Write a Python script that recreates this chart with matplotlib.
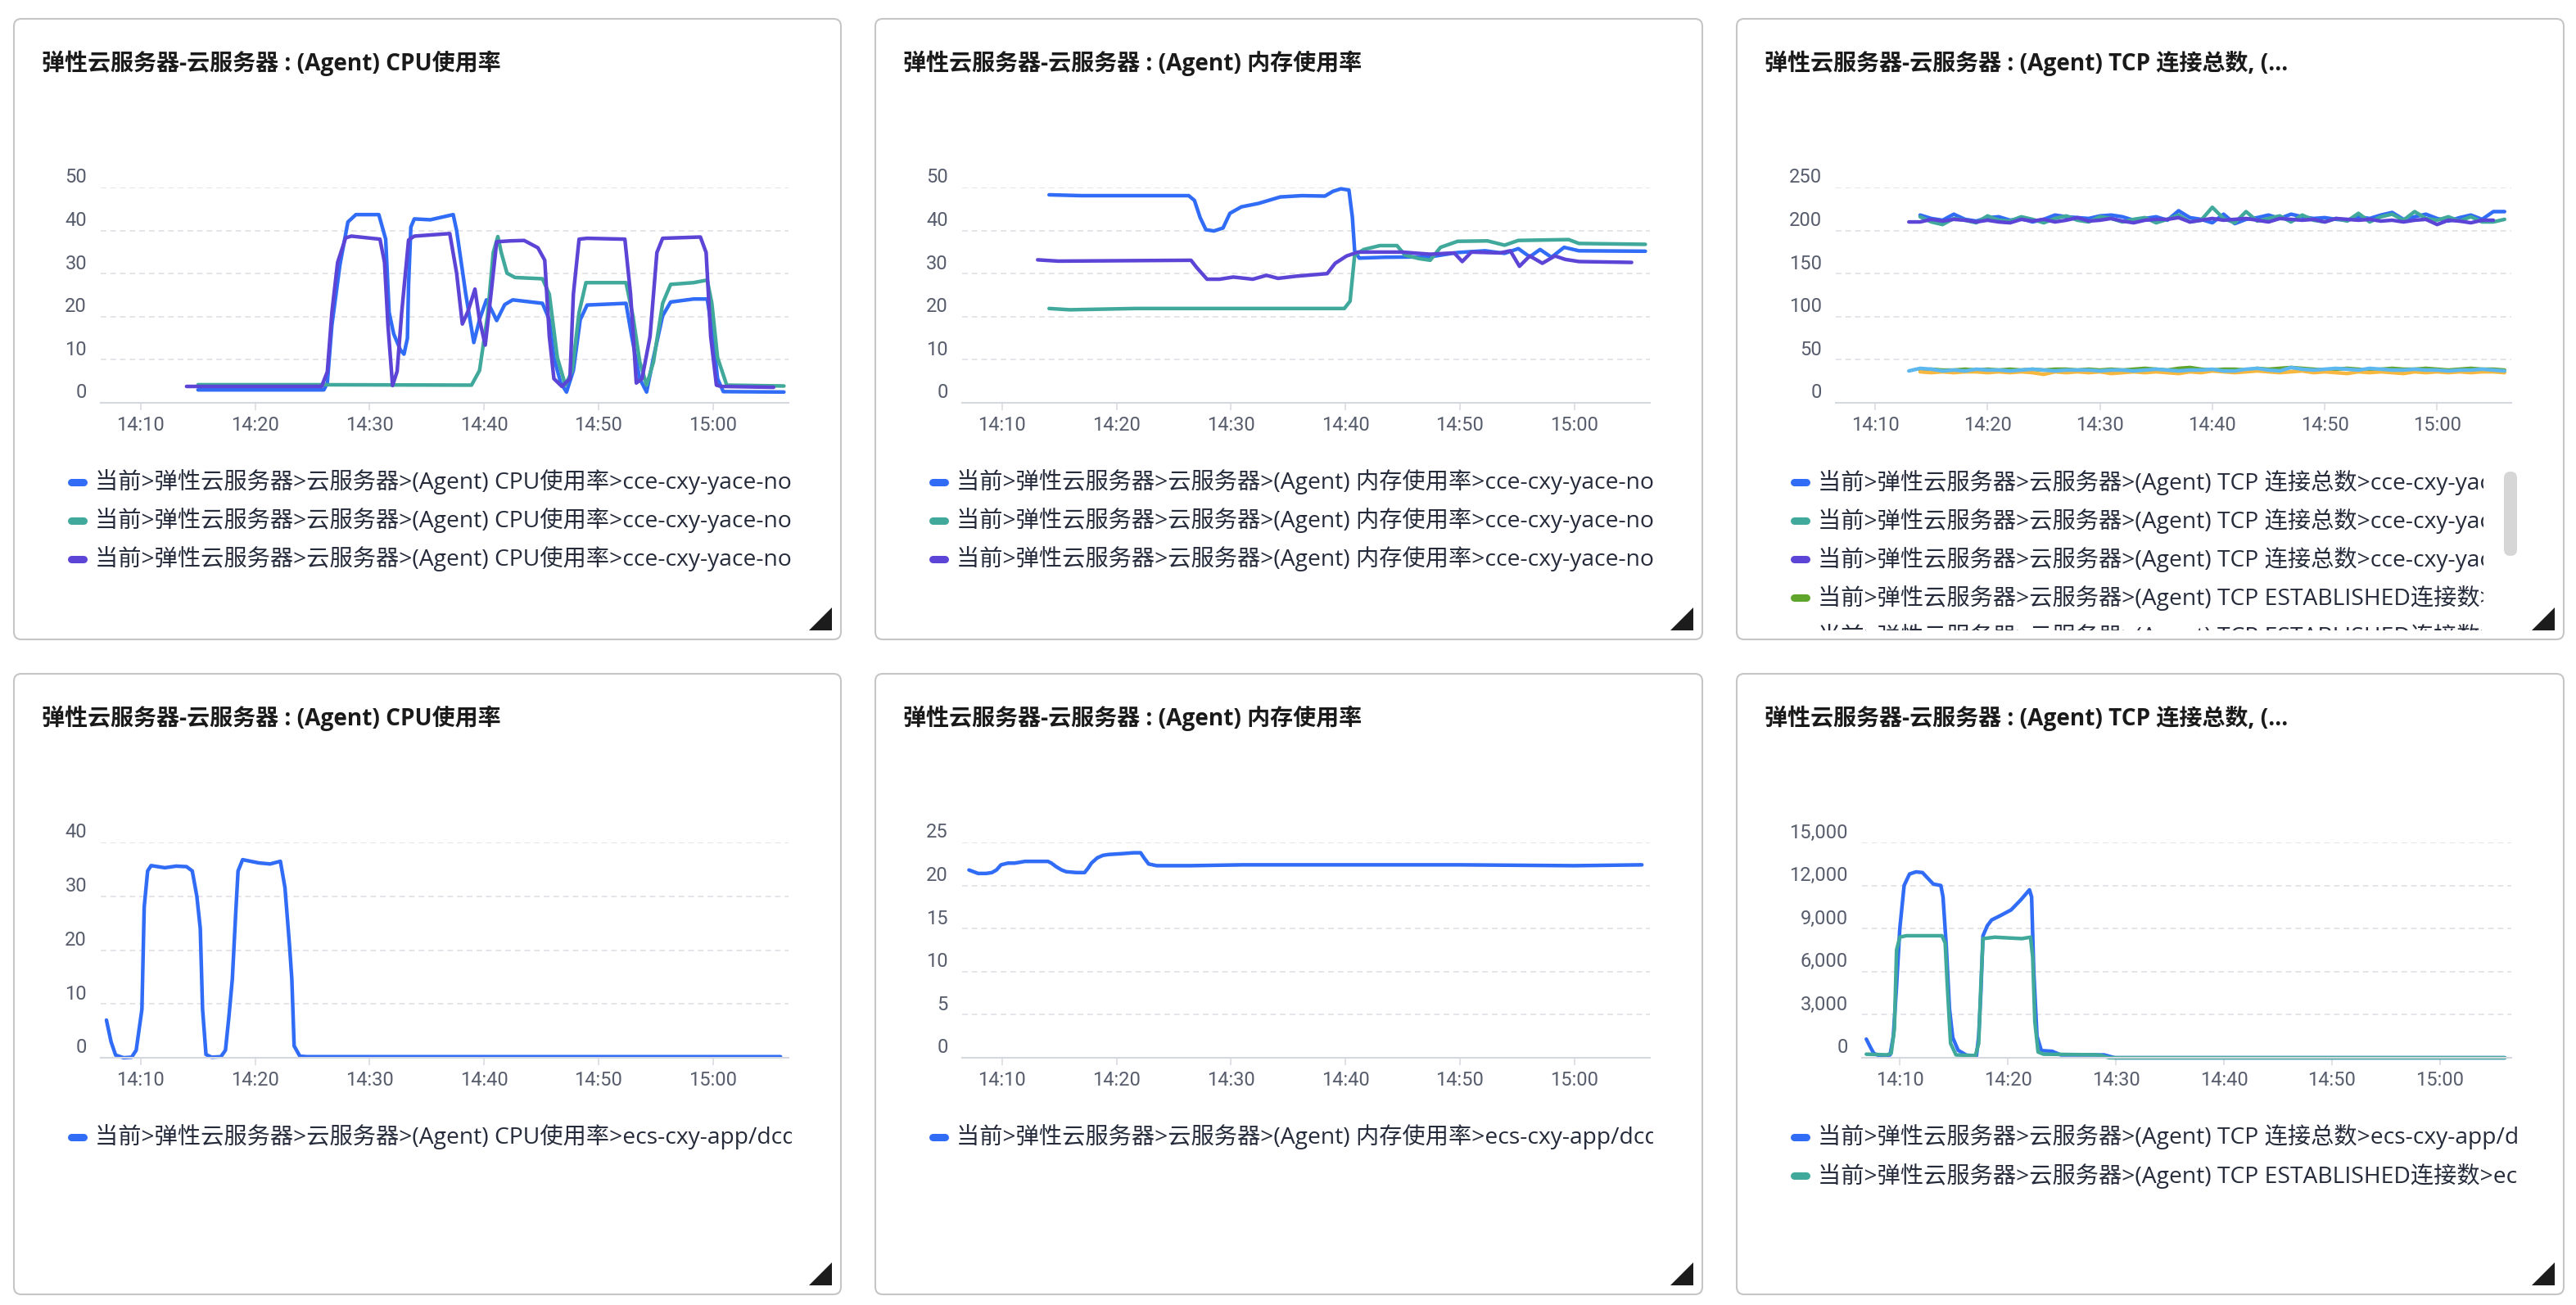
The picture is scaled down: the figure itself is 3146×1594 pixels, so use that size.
import numpy as np
import matplotlib
matplotlib.use('Agg')
import matplotlib.pyplot as plt
from matplotlib.patches import FancyBboxPatch, Polygon
from matplotlib.transforms import Bbox, TransformedBbox, offset_copy

plt.rcParams['font.family'] = ['Open Sans', 'Noto Sans CJK SC', 'DejaVu Sans']
TICK_FONT = ['Roboto', 'Noto Sans CJK SC', 'DejaVu Sans']

W, H = 3146, 1594
PW, PH = 1010, 758
COLS = [17, 1069, 2121]
ROWS = [23, 823]

BLUE = '#306cf5'
TEAL = '#41a99b'
PURPLE = '#5c44d6'
GREEN = '#5fa52c'
ORANGE = '#f7b73e'
LBLUE = '#5cb8ee'

# tijd = minuten na 14:00
xticks = [10, 20, 30, 40, 50, 60]
xlabels = ['14:10', '14:20', '14:30', '14:40', '14:50', '15:00']

# ---- paneel 1: CPU (cce nodes) ----
cpu_a_t = [15.0, 20, 26.0, 26.3, 26.7, 27.4, 28.1, 28.8, 30.8, 31.4, 31.7, 32.1, 32.7, 33.0, 33.3, 33.4, 33.6, 33.9,
           35.3, 37.3, 37.6, 38.4, 39.1, 39.6, 40.2, 40.7, 41.1, 41.8, 42.5, 45.1, 45.7, 46.1, 46.7, 47.2, 47.8, 48.4,
           49.0, 52.4, 52.9, 53.6, 54.2, 54.8, 55.6, 56.3, 58.3, 59.5, 60.0, 60.4, 60.9, 66.2]
cpu_a_v = [3.0, 3.0, 3.0, 4.6, 18, 32, 42, 43.7, 43.7, 38, 21, 16, 12.2, 11.3, 15, 27.5, 40.8, 42.7,
           42.5, 43.7, 40, 25.2, 14, 19.3, 23.9, 21.3, 19.1, 22.8, 23.9, 23.1, 19.3, 10.5, 4.6, 2.5, 7.5, 19.3,
           22.7, 23.1, 15.4, 5.6, 2.5, 10.5, 20.2, 23.4, 24.1, 24.1, 15.4, 5.6, 2.6, 2.5]
cpu_b_t = [15.0, 25, 38.9, 39.6, 40.3, 40.8, 41.2, 41.5, 42.0, 42.7, 45.1, 45.7, 46.4, 47.1, 47.7, 48.3, 48.9,
           52.4, 53.0, 53.6, 54.2, 54.8, 55.6, 56.3, 58.3, 59.5, 59.9, 60.4, 61.2, 66.2]
cpu_b_v = [4.2, 4.2, 4.1, 7.5, 20.2, 34.9, 38.6, 34.9, 30.1, 29.1, 28.8, 25.2, 10.5, 4.1, 7.5, 21, 27.9,
           27.9, 20.2, 9.5, 4.1, 9.5, 23.1, 27.5, 27.9, 28.5, 23.1, 10.5, 4.1, 3.9]
cpu_c_t = [14.0, 25.8, 26.3, 26.7, 27.2, 27.9, 28.4, 30.9, 31.3, 31.6, 32.0, 32.4, 32.8, 33.4, 33.9, 37.0, 37.6,
           38.1, 38.6, 39.2, 39.6, 40.1, 40.6, 41.1, 42.3, 43.5, 44.7, 45.3, 45.7, 46.1, 46.8, 47.5, 47.8, 48.3,
           49.0, 52.3, 52.8, 53.3, 53.8, 54.5, 55.1, 55.6, 57.8, 58.9, 59.4, 59.8, 60.3, 60.7, 65.3]
cpu_c_v = [3.8, 3.8, 7.2, 21, 32.6, 38.3, 38.7, 38, 32.6, 18, 4, 7.3, 21, 37.8, 38.7, 39.3, 30.1,
           18.3, 21.3, 26.4, 19.3, 13.4, 25.2, 37.4, 37.6, 37.7, 36, 33.1, 15.4, 5.6, 3.8, 5.6, 25.2, 38,
           38.2, 38, 25.2, 4.6, 5.6, 15.4, 34.9, 38.2, 38.4, 38.5, 34.9, 15.4, 4.1, 3.8, 3.6]

# ---- paneel 2: geheugen (cce nodes) ----
mem_a_t = [14.1, 16.9, 26.3, 26.8, 27.3, 27.8, 28.5, 29.3, 29.9, 30.9, 32.4, 34.3, 36.2, 38.2, 38.9, 39.6, 40.3,
           40.6, 40.8, 41.2, 43.5, 47.4, 49.8, 52.2, 53.9, 55.1, 56.1, 57.0, 58.0, 59.1, 60.4, 66.2]
mem_a_v = [48.3, 48.1, 48.1, 47, 43, 40.2, 39.9, 40.6, 44, 45.5, 46.3, 47.8, 48.1, 48, 49.1, 49.7, 49.4,
           43.1, 35.3, 33.6, 33.8, 33.9, 34.9, 35.3, 34.7, 35.8, 33.9, 35.6, 33.8, 36.1, 35.3, 35.2]
mem_b_t = [14.1, 15.9, 21.7, 31.4, 39.9, 40.4, 40.8, 41.6, 43.0, 44.5, 45.2, 46.4, 47.4, 48.3, 49.8, 52.4, 53.9,
           55.1, 59.5, 60.4, 66.2]
mem_b_v = [21.9, 21.6, 21.9, 21.9, 21.9, 23.6, 34.3, 35.6, 36.5, 36.5, 34.3, 33.5, 33.1, 36.1, 37.5, 37.6, 36.6,
           37.7, 37.9, 37, 36.8]
mem_c_t = [13.1, 14.9, 26.5, 27.0, 27.9, 29.0, 30.2, 31.9, 33.1, 34.1, 35.7, 38.4, 39.1, 40.1, 41.1, 44.9, 47.4,
           49.5, 50.2, 51.0, 53.5, 54.4, 55.2, 56.1, 57.2, 58.3, 59.2, 60.4, 65.0]
mem_c_v = [33.2, 32.9, 33.1, 31.4, 28.7, 28.7, 29.2, 28.7, 29.6, 28.9, 29.4, 30.0, 32.4, 34.1, 35, 35, 34.5,
           34.8, 32.8, 35, 34.8, 35.3, 31.7, 34.1, 32.4, 34.1, 33.3, 32.8, 32.6]

# ---- paneel 3: TCP (cce nodes), een waarde per minuut ----
tcp_a_start = 14
tcp_a_v = [218, 214, 212, 219, 213, 211, 215, 216, 212, 214, 210, 213, 218, 216, 215, 214, 217, 218, 216, 212,
           214, 216, 212, 223, 215, 213, 209, 219, 208, 213, 215, 218, 214, 219, 216, 214, 215, 213, 212, 216,
           214, 218, 221, 213, 216, 219, 214, 211, 215, 218, 213, 222, 222]
tcp_b_start = 14
tcp_b_v = [216, 210, 207, 214, 212, 209, 217, 212, 211, 216, 213, 209, 214, 217, 212, 210, 216, 214, 210, 213,
           215, 209, 213, 218, 210, 212, 227, 214, 209, 222, 211, 214, 217, 210, 218, 212, 210, 214, 211, 220,
           210, 216, 219, 212, 222, 214, 212, 216, 211, 216, 210, 210, 213]
tcp_c_start = 13
tcp_c_v = [210, 210, 213, 211, 213, 212, 210, 212, 210, 209, 213, 211, 213, 210, 212, 215, 211, 212, 214, 211,
           209, 212, 213, 213, 215, 210, 212, 214, 212, 213, 214, 212, 210, 214, 213, 212, 213, 210, 214, 213,
           212, 213, 211, 212, 210, 212, 213, 207, 212, 211, 209, 212, 212]
est_a_start = 14
est_a_v = [38, 39, 38, 38, 39, 38, 39, 38, 39, 38, 39, 38, 39, 39, 38, 39, 38, 39, 38, 39, 40, 39, 38, 40,
           41, 39, 38, 39, 39, 38, 40, 39, 40, 41, 40, 39, 38, 39, 40, 39, 38, 39, 40, 39, 39, 40, 39, 38,
           39, 40, 39, 39, 38]
est_b_start = 14
est_b_v = [36, 35, 36, 35, 36, 36, 35, 36, 35, 36, 35, 33, 36, 35, 36, 35, 36, 34, 35, 36, 35, 36, 35, 34,
           36, 35, 37, 36, 35, 36, 37, 36, 35, 36, 37, 35, 36, 35, 34, 36, 35, 36, 35, 34, 36, 35, 36, 35,
           36, 35, 36, 36, 35]
est_c_start = 13
est_c_v = [37, 40, 39, 37, 38, 37, 39, 38, 38, 37, 38, 39, 38, 37, 38, 38, 38, 37, 38, 38, 37, 38, 39, 38,
           37, 38, 38, 39, 37, 37, 39, 40, 38, 37, 41, 39, 38, 39, 40, 39, 38, 40, 39, 38, 38, 39, 38, 38,
           37, 38, 38, 39, 38, 37]

# ---- paneel 4: CPU (ecs) ----
ecs_cpu_t = [7.0, 7.4, 7.8, 8.5, 9.2, 9.6, 10.1, 10.3, 10.6, 10.9, 12.1, 13.1, 14.0, 14.5, 14.9, 15.2, 15.4,
             15.7, 16.2, 17.0, 17.4, 17.7, 18.0, 18.3, 18.5, 18.9, 20.3, 21.3, 22.2, 22.6, 23.0, 23.2, 23.4,
             23.9, 24.5, 30, 40, 50, 60, 65.9]
ecs_cpu_v = [7.0, 3.0, 0.5, 0.0, 0.1, 1.4, 9, 28, 34.7, 35.7, 35.3, 35.6, 35.5, 34.7, 30, 24, 9,
             0.6, 0.1, 0.2, 1.4, 7.6, 14.6, 27, 34.7, 36.8, 36.2, 36.0, 36.5, 31.6, 20.8, 14.6, 2.2,
             0.3, 0.2, 0.2, 0.2, 0.2, 0.2, 0.2]

# ---- paneel 5: geheugen (ecs) ----
ecs_mem_t = [7.1, 7.5, 7.9, 8.6, 9.1, 9.5, 9.9, 10.5, 11.1, 12.0, 13.0, 14.0, 14.3, 14.7, 15.2, 15.6, 16.5, 17.2,
             17.5, 17.8, 18.3, 18.8, 19.3, 20.5, 21.5, 22.1, 22.4, 22.8, 23.5, 26.4, 31, 40, 50, 60, 65.9]
ecs_mem_v = [21.8, 21.6, 21.4, 21.4, 21.5, 21.8, 22.4, 22.6, 22.6, 22.8, 22.8, 22.8, 22.6, 22.2, 21.8, 21.6,
             21.5, 21.5, 22.0, 22.6, 23.2, 23.5, 23.6, 23.7, 23.8, 23.8, 23.2, 22.5, 22.3, 22.3, 22.4, 22.4,
             22.4, 22.3, 22.4]

# ---- paneel 6: TCP (ecs) ----
ecs_tcp_t = [6.9, 7.3, 7.6, 8.1, 8.6, 9.1, 9.4, 9.7, 10.0, 10.4, 10.9, 11.5, 12.1, 12.6, 13.1, 13.8, 14.0, 14.3,
             14.6, 14.9, 15.4, 16.2, 17.1, 17.3, 17.5, 17.7, 18.1, 18.5, 19.3, 20.3, 21.2, 22.0, 22.2, 22.4,
             22.7, 23.1, 24.1, 24.9, 28.9, 29.9, 40, 50, 60, 66.0]
ecs_tcp_v = [1300, 700, 300, 150, 150, 200, 1500, 5000, 9000, 12000, 12800, 12950, 12900, 12500, 12100, 12000,
             11200, 7800, 3400, 1400, 520, 170, 150, 1500, 4500, 8500, 9200, 9600, 9900, 10300, 11000, 11700,
             11200, 6000, 1500, 500, 450, 200, 200, 0, 0, 0, 0, 0]
ecs_est_t = [6.9, 8.8, 9.2, 9.5, 9.7, 10.0, 10.6, 12.0, 13.9, 14.2, 14.4, 14.7, 15.2, 17.0, 17.3, 17.5, 17.7,
             18.8, 20.0, 21.3, 22.1, 22.3, 22.5, 22.8, 23.3, 28.4, 29.4, 40, 50, 60, 66.0]
ecs_est_v = [250, 200, 300, 2000, 7500, 8400, 8500, 8500, 8500, 8000, 5000, 1000, 200, 150, 1000, 5000, 8300,
             8400, 8350, 8300, 8400, 7000, 2500, 400, 250, 200, 0, 0, 0, 0, 0]

PREFIX = '当前>弹性云服务器>云服务器>(Agent) '
TITLE_CPU = '弹性云服务器-云服务器 : (Agent) CPU使用率'
TITLE_MEM = '弹性云服务器-云服务器 : (Agent) 内存使用率'
TITLE_TCP = '弹性云服务器-云服务器 : (Agent) TCP 连接总数, (...'


def minutes(start, values):
    return np.arange(start, start + len(values))


def px_rect(x0, y0, x1, y1):
    return [x0 / W, 1 - y1 / H, (x1 - x0) / W, (y1 - y0) / H]


def panel(fig, bg, col, row, title, left_rel, ymax, yticks, ylabels, series, legend, clip_right_rel=950,
          scrollbar=False):
    px, py = COLS[col], ROWS[row]
    bg.add_patch(FancyBboxPatch((px, py), PW, PH, boxstyle='round,pad=0,rounding_size=9',
                                fc='white', ec='#c6c6c6', lw=1.5))
    bg.text(px + 34, py + 54, title, fontsize=20.2, fontweight='bold', color='#1a1a1a', va='center')

    # driehoekje rechtsonder
    r, b = px + PW, py + PH
    bg.add_patch(Polygon([(r - 39, b - 11), (r - 11, b - 11), (r - 11, b - 39)], closed=True,
                         fc='#1c1c1c', ec='none'))

    ax = fig.add_axes(px_rect(px + left_rel, py + 206, px + 946, py + 469))
    ax.set_facecolor('none')
    for t, v, c in series:
        ax.plot(t, v, color=c, lw=3.2, solid_capstyle='round', solid_joinstyle='round', clip_on=False)
    ax.set_xlim(6.5, 66.6)
    ax.set_ylim(0, ymax)
    ax.set_yticks(yticks)
    ax.yaxis.grid(True, color='#dcdde3', ls=(0, (4.5, 3.2)), lw=1.1)
    ax.tick_params(axis='y', length=0, labelleft=False)
    ax.set_xticks(xticks, xlabels)
    ax.tick_params(axis='x', length=6.5, width=1.1, color='#d5d8de', labelsize=17,
                   labelcolor='#575d6c', pad=5)
    for lab in ax.get_xticklabels():
        lab.set_family(TICK_FONT)
    for s in ['top', 'right', 'left']:
        ax.spines[s].set_visible(False)
    ax.spines['bottom'].set_color('#d5d8de')
    ax.spines['bottom'].set_linewidth(1.5)
    ax.set_axisbelow(True)

    tr = offset_copy(ax.get_yaxis_transform(), fig=fig, x=-17, y=12, units='dots')
    for v, lab in zip(yticks, ylabels):
        ax.text(0, v, lab, transform=tr, ha='right', va='center', fontsize=17, color='#575d6c',
                family=TICK_FONT)

    # legenda
    clip = TransformedBbox(Bbox.from_extents(px + 50, py + 530, px + clip_right_rel, py + 747), bg.transData)
    for i, (label, c) in enumerate(legend):
        yy = py + 566 + i * 47
        if yy > py + 760:
            break
        ln, = bg.plot([px + 69.5, px + 84.5], [yy, yy], color=c, lw=6.5, solid_capstyle='round')
        ln.set_clip_box(clip)
        ln.set_clip_on(True)
        tx = bg.text(px + 99, yy, label, fontsize=20.3, color='#252b3a', va='center')
        tx.set_clip_box(clip)
        tx.set_clip_on(True)

    if scrollbar:
        bg.add_patch(FancyBboxPatch((px + 937, py + 553), 16, 103, boxstyle='round,pad=0,rounding_size=8',
                                    fc='#d6d6d6', ec='none'))
    return ax


def main():
    fig = plt.figure(figsize=(W / 100, H / 100), dpi=100)
    bg = fig.add_axes([0, 0, 1, 1])
    bg.set_xlim(0, W)
    bg.set_ylim(H, 0)
    bg.axis('off')

    panel(fig, bg, 0, 0, TITLE_CPU, 106, 50, [0, 10, 20, 30, 40, 50], ['0', '10', '20', '30', '40', '50'],
          [(cpu_a_t, cpu_a_v, BLUE), (cpu_b_t, cpu_b_v, TEAL), (cpu_c_t, cpu_c_v, PURPLE)],
          [(PREFIX + 'CPU使用率>cce-cxy-yace-node-01', BLUE),
           (PREFIX + 'CPU使用率>cce-cxy-yace-node-02', TEAL),
           (PREFIX + 'CPU使用率>cce-cxy-yace-node-03', PURPLE)])

    panel(fig, bg, 1, 0, TITLE_MEM, 106, 50, [0, 10, 20, 30, 40, 50], ['0', '10', '20', '30', '40', '50'],
          [(mem_a_t, mem_a_v, BLUE), (mem_b_t, mem_b_v, TEAL), (mem_c_t, mem_c_v, PURPLE)],
          [(PREFIX + '内存使用率>cce-cxy-yace-node-01', BLUE),
           (PREFIX + '内存使用率>cce-cxy-yace-node-02', TEAL),
           (PREFIX + '内存使用率>cce-cxy-yace-node-03', PURPLE)])

    panel(fig, bg, 2, 0, TITLE_TCP, 121, 250, [0, 50, 100, 150, 200, 250],
          ['0', '50', '100', '150', '200', '250'],
          [(minutes(tcp_a_start, tcp_a_v), tcp_a_v, BLUE),
           (minutes(tcp_b_start, tcp_b_v), tcp_b_v, TEAL),
           (minutes(tcp_c_start, tcp_c_v), tcp_c_v, PURPLE),
           (minutes(est_a_start, est_a_v), est_a_v, GREEN),
           (minutes(est_b_start, est_b_v), est_b_v, ORANGE),
           (minutes(est_c_start, est_c_v), est_c_v, LBLUE)],
          [(PREFIX + 'TCP 连接总数>cce-cxy-yace-node-01', BLUE),
           (PREFIX + 'TCP 连接总数>cce-cxy-yace-node-02', TEAL),
           (PREFIX + 'TCP 连接总数>cce-cxy-yace-node-03', PURPLE),
           (PREFIX + 'TCP ESTABLISHED连接数>cce-cxy-yace-node-01', GREEN),
           (PREFIX + 'TCP ESTABLISHED连接数>cce-cxy-yace-node-02', ORANGE),
           (PREFIX + 'TCP ESTABLISHED连接数>cce-cxy-yace-node-03', LBLUE)],
          clip_right_rel=912, scrollbar=True)

    panel(fig, bg, 0, 1, TITLE_CPU, 106, 40, [0, 10, 20, 30, 40], ['0', '10', '20', '30', '40'],
          [(ecs_cpu_t, ecs_cpu_v, BLUE)],
          [(PREFIX + 'CPU使用率>ecs-cxy-app/dcd-001', BLUE)])

    panel(fig, bg, 1, 1, TITLE_MEM, 106, 25, [0, 5, 10, 15, 20, 25], ['0', '5', '10', '15', '20', '25'],
          [(ecs_mem_t, ecs_mem_v, BLUE)],
          [(PREFIX + '内存使用率>ecs-cxy-app/dcd-001', BLUE)])

    panel(fig, bg, 2, 1, TITLE_TCP, 153, 15000, [0, 3000, 6000, 9000, 12000, 15000],
          ['0', '3,000', '6,000', '9,000', '12,000', '15,000'],
          [(ecs_tcp_t, ecs_tcp_v, BLUE), (ecs_est_t, ecs_est_v, TEAL)],
          [(PREFIX + 'TCP 连接总数>ecs-cxy-app/dcd-001', BLUE),
           (PREFIX + 'TCP ESTABLISHED连接数>ecs-cxy-app/dcd-001', TEAL)],
          clip_right_rel=953)

    fig.savefig('out.png', dpi=100, facecolor='white')


if __name__ == '__main__':
    main()
